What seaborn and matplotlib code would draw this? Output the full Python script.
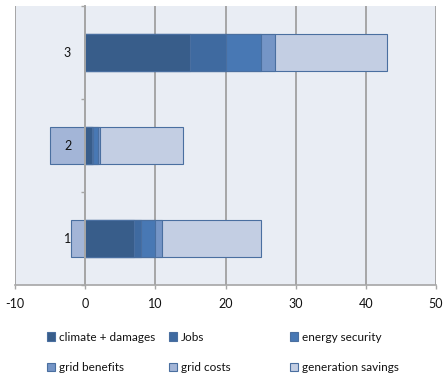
import matplotlib
matplotlib.use("Agg")
import matplotlib.pyplot as plt
from matplotlib.patches import Patch
from matplotlib.transforms import offset_copy
import numpy as np
import pandas as pd
import seaborn as sns

# Scenario values (benefit components stack to the right, grid costs to the left)
scenarios = ["3", "2", "1"]
climate_damages = [15.0, 1.0, 7.0]
jobs = [5.0, 0.1, 1.0]
energy_security = [5.0, 0.8, 2.0]
grid_benefits = [2.0, 0.2, 1.0]
grid_costs = [0.0, -5.0, -2.0]
generation_savings = [16.0, 11.9, 14.0]

x_ticks = [-10, 0, 10, 20, 30, 40, 50]

positive_parts = [
    ("climate + damages", climate_damages, "#385d8a"),
    ("Jobs", jobs, "#3f6aa0"),
    ("energy security", energy_security, "#4878b4"),
    ("grid benefits", grid_benefits, "#7595c6"),
    ("generation savings", generation_savings, "#c3cee3"),
]
cost_color = "#a3b5d7"
edge_color = "#4a6fa0"

sns.set_theme(style="white")
plt.rcParams["font.family"] = ["Lato", "DejaVu Sans"]

fig = plt.figure(figsize=(4.44, 3.77), dpi=100)
fig.patch.set_facecolor("white")
ax = fig.add_axes([15 / 444, 1 - 285 / 377, 421 / 444, 279 / 377])
ax.set_facecolor("#e9edf4")

# Stack by overlaying cumulative totals, outermost first
cum = np.cumsum([np.array(v) for _, v, _ in positive_parts], axis=0)
for (name, _, color), totals in reversed(list(zip(positive_parts, cum))):
    df = pd.DataFrame({"scenario": scenarios, "value": totals})
    sns.barplot(data=df, x="value", y="scenario", order=scenarios, orient="h",
                color=color, saturation=1, width=0.4, edgecolor=edge_color,
                linewidth=0.8, ax=ax, zorder=2)

df_cost = pd.DataFrame({"scenario": scenarios, "value": grid_costs})
sns.barplot(data=df_cost, x="value", y="scenario", order=scenarios, orient="h",
            color=cost_color, saturation=1, width=0.4, edgecolor=edge_color,
            linewidth=0.8, ax=ax, zorder=2)

ax.set_xlim(-10, 50)
ax.set_ylim(2.5, -0.5)
ax.set_xticks(x_ticks)
ax.set_xticklabels([str(t) for t in x_ticks])
ax.set_axisbelow(True)
ax.grid(axis="x", color="#a6a6a6", linewidth=1.4)
ax.grid(axis="y", visible=False)
ax.set_xlabel("")
ax.set_ylabel("")

for side in ["top", "right"]:
    ax.spines[side].set_visible(False)
ax.spines["bottom"].set_color("#a6a6a6")
ax.spines["bottom"].set_linewidth(1.2)
ax.spines["left"].set_position(("data", 0))
ax.spines["left"].set_color("#a6a6a6")
ax.spines["left"].set_linewidth(1.4)

ax.tick_params(axis="x", which="major", length=3, width=1, color="#a6a6a6",
               labelsize=9, labelcolor="#111111", pad=6, bottom=True)
ax.set_yticks([0, 1, 2])
ax.set_yticklabels([])
ax.tick_params(axis="y", which="major", length=0)
ax.set_yticks([-0.5, 0.5, 1.5, 2.5], minor=True)
ax.tick_params(axis="y", which="minor", length=3, width=1, color="#a6a6a6", left=True)

# Category labels beside the zero axis, drawn above the bars
lab_tr = offset_copy(ax.transData, fig=fig, x=-14, y=0, units="dots")
for i, s in enumerate(scenarios):
    ax.text(0, i, s, transform=lab_tr, ha="right", va="center",
            fontsize=9, color="#111111", zorder=10)

# Legend in three columns below the chart
handles = {name: Patch(facecolor=c, edgecolor=edge_color, linewidth=0.8)
           for name, _, c in positive_parts}
handles["grid costs"] = Patch(facecolor=cost_color, edgecolor=edge_color, linewidth=0.8)
columns = [
    (47, ["climate + damages", "grid benefits"]),
    (169, ["Jobs", "grid costs"]),
    (290, ["energy security", "generation savings"]),
]
for xpix, names in columns:
    fig.legend([handles[n] for n in names], names, loc="center left",
               bbox_to_anchor=(xpix / 444, 1 - 352.5 / 377), frameon=False,
               fontsize=8.5, handlelength=0.7, handleheight=0.7,
               handletextpad=0.3, labelspacing=1.65, borderpad=0,
               borderaxespad=0, labelcolor="#111111")

fig.savefig("out.png", dpi=100, facecolor="white")
